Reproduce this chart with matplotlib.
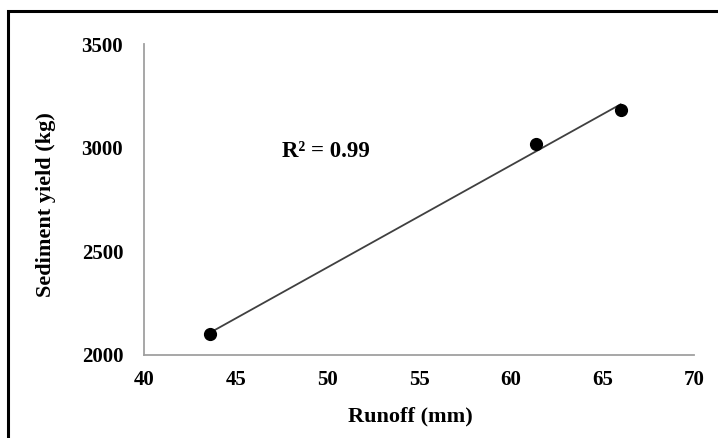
import numpy as np
import matplotlib
matplotlib.use("Agg")
import matplotlib.pyplot as plt
from matplotlib.patches import Rectangle

# Runoff vs. sediment yield observations
runoff_mm = [43.6, 61.4, 66.0]
sediment_kg = [2100, 3020, 3180]
x_ticks = [40, 45, 50, 55, 60, 65, 70]
y_ticks = [2000, 2500, 3000, 3500]
r2_label = "R² = 0.99"

plt.rcParams["font.family"] = ["Liberation Serif", "DejaVu Serif"]
plt.rcParams["font.weight"] = "bold"

W, H = 718, 438
fig = plt.figure(figsize=(W / 100, H / 100), dpi=100)

# outer frame around the chart area (runs past the right and bottom edges)
fig.patches.append(Rectangle((7.5 / W, -0.1), 1.2, 1.1 - 11 / H,
                             transform=fig.transFigure, fill=False,
                             edgecolor="black", linewidth=2.2))

ax_l, ax_r, ax_t, ax_b = 144, 694, 44, 355
ax = fig.add_axes([ax_l / W, 1 - ax_b / H, (ax_r - ax_l) / W, (ax_b - ax_t) / H])

# linear trendline over the observed range
coef = np.polyfit(runoff_mm, sediment_kg, 1)
xs = np.array([min(runoff_mm), max(runoff_mm)])
ax.plot(xs, np.polyval(coef, xs), color="#404040", linewidth=1.3, zorder=2)
ax.scatter(runoff_mm, sediment_kg, s=72, color="black", zorder=3)

ax.set_xlim(40, 70)
ax.set_ylim(2000, 3500)
ax.set_xticks(x_ticks)
ax.set_yticks(y_ticks)
ax.tick_params(length=0, labelsize=15)
ax.tick_params(axis="x", pad=10.5)
ax.tick_params(axis="y", pad=15)
for lab in ax.get_xticklabels() + ax.get_yticklabels():
    lab.set_fontweight("bold")

for side in ("top", "right"):
    ax.spines[side].set_visible(False)
for side in ("left", "bottom"):
    ax.spines[side].set_color("#a0a0a0")
    ax.spines[side].set_linewidth(1.3)

ax.set_xlabel("Runoff (mm)", fontsize=16, fontweight="bold", va="center")
ax.xaxis.set_label_coords((410 - ax_l) / (ax_r - ax_l), (ax_b - 416) / (ax_b - ax_t))
ax.set_ylabel("Sediment yield (kg)", fontsize=16, fontweight="bold", va="center")
ax.yaxis.set_label_coords((46 - ax_l) / (ax_r - ax_l), (ax_b - 205) / (ax_b - ax_t))

ax.text(47.5, 2953, r2_label, fontsize=16.5, fontweight="bold", ha="left", va="baseline")

fig.savefig("out.png", dpi=100)
